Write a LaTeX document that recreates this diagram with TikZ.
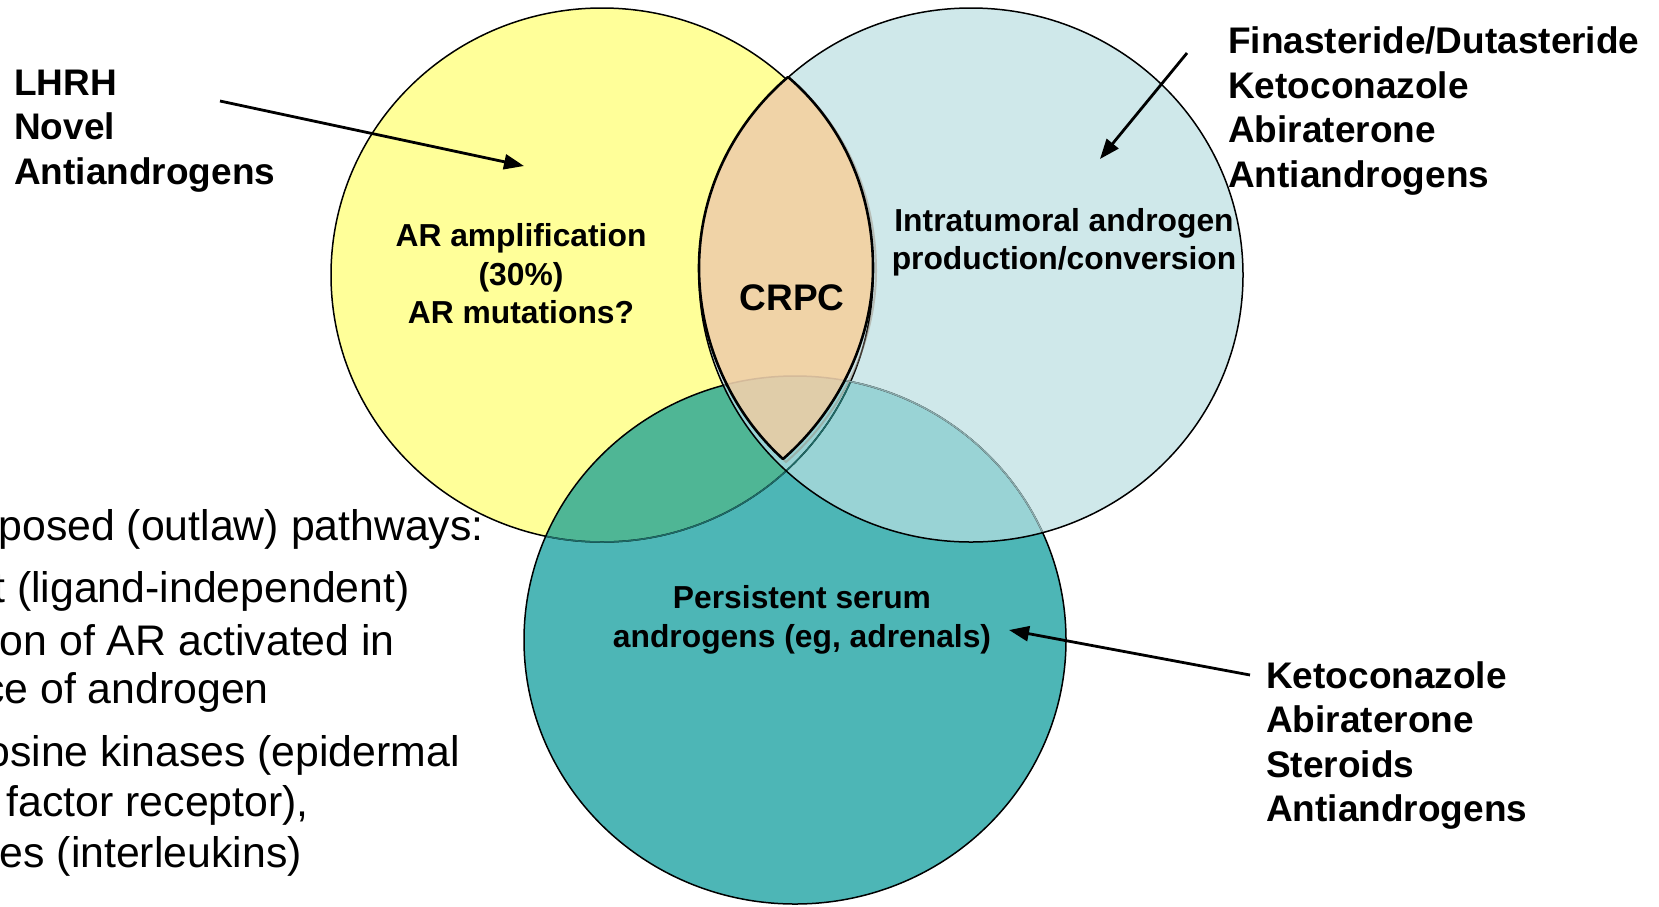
\documentclass[tikz,border=0pt]{standalone}
\usepackage{fontspec}
\setmainfont{Liberation Sans}
\usetikzlibrary{arrows.meta}

\definecolor{yel}{HTML}{FFFF99}
\definecolor{lblue}{HTML}{CFE8EA}
\definecolor{teal1}{HTML}{4DB6B6}
\definecolor{tealyel}{HTML}{4FB695}
\definecolor{tealblue}{HTML}{99D3D5}
\definecolor{lens}{HTML}{F0D3A7}
\definecolor{lensteal}{HTML}{E0CDA9}
\definecolor{yeledge}{HTML}{1E6A66}
\definecolor{tealedge}{HTML}{8AABAD}
\definecolor{lensedge}{HTML}{D4BA9A}
\definecolor{lensshadow}{HTML}{9A8A7A}

\tikzset{
  circline/.style={line width=1.5pt},
  lensline/.style={line width=2.6pt, line join=round},
  pointer/.style={line width=2.8pt, -{Triangle[length=20pt,width=15pt]}},
  druglist/.style={font=\fontsize{37}{44.5}\selectfont\bfseries, inner sep=0pt, align=left},
  inlabel/.style={font=\fontsize{31.8}{38.4}\selectfont\bfseries, inner sep=0pt, align=center},
  bodyline/.style={font=\fontsize{42.8}{51}\selectfont, inner sep=0pt, anchor=east},
}

\def\yellowpath{(602,275) ellipse [x radius=271, y radius=267]}
\def\bluepath{(971,275) ellipse [x radius=272, y radius=267]}
\def\tealpath{(795,640) ellipse [x radius=271, y radius=264]}
% the CRPC lens, drawn as its own shape
\def\lenspath{(788,77) .. controls (732,125) and (699,194) .. (699,268)
  .. controls (699,341) and (731,412) .. (783,459)
  .. controls (837,412) and (873,341) .. (873,268)
  .. controls (873,194) and (844,125) .. (788,77) -- cycle}

\begin{document}
\begin{tikzpicture}[x=1pt, y=-1pt]
\useasboundingbox (0,0) rectangle (1659,906);
\clip (0,0) rectangle (1659,906);

% base fills
\fill[yel] \yellowpath;
\fill[lblue] \bluepath;
\fill[teal1] \tealpath;
\begin{scope}
  \clip \yellowpath;
  \fill[tealyel] \tealpath;
\end{scope}
\begin{scope}
  \clip \bluepath;
  \fill[tealblue] \tealpath;
\end{scope}

% circle outlines
\draw[circline] \yellowpath;
\begin{scope}
  \clip \tealpath;
  \draw[circline, yeledge] \yellowpath;
\end{scope}
\draw[circline] \tealpath;
\begin{scope}
  \clip \bluepath;
  \draw[circline, tealedge] \tealpath;
\end{scope}
\draw[circline] \bluepath;

% CRPC lens with a soft shadow
\begin{scope}[shift={(3,3)}]
  \draw[line width=2pt, lensshadow, opacity=0.45] \lenspath;
\end{scope}
\fill[lens] \lenspath;
\begin{scope}
  \clip \lenspath;
  \fill[lensteal] \tealpath;
  \draw[circline, lensedge] \tealpath;
\end{scope}
\draw[lensline] \lenspath;

% labels inside the circles
\node[inlabel] (amp) at (521,274) {AR amplification\\(30\%)\\AR mutations?};
\node[inlabel] (intra) at (1064,242) {Intratumoral androgen\\production/conversion};
\node[font=\fontsize{37}{44}\selectfont\bfseries, inner sep=0pt] (crpc) at (792,298) {CRPC};
\node[inlabel] (serum) at (802,620) {Persistent serum\\androgens (eg, adrenals)};

% drug lists
\node[druglist, anchor=west] (lhrh) at (14,131) {LHRH\\Novel\\Antiandrogens};
\node[druglist, anchor=west] (fina) at (1228,111) {Finasteride/Dutasteride\\Ketoconazole\\Abiraterone\\Antiandrogens};
\node[druglist, anchor=west] (keto) at (1266,745.5) {Ketoconazole\\Abiraterone\\Steroids\\Antiandrogens};

% pointers
\coordinate (lhrhtail) at (220,101);
\coordinate (lhrhtip) at (524,166);
\coordinate (finatail) at (1187,53);
\coordinate (finatip) at (1100,159);
\coordinate (ketotail) at (1250,675);
\coordinate (ketotip) at (1009,630);
\draw[pointer] (lhrhtail) -- (lhrhtip);
\draw[pointer] (finatail) -- (finatip);
\draw[pointer] (ketotail) -- (ketotip);

% bulleted text running in from the left
\node[bodyline] (p1) at (484,529) {Proposed (outlaw) pathways:};
\node[bodyline] (p2) at (410,591) {– Direct (ligand-independent)};
\node[bodyline] (p3) at (395,640) {activation of AR activated in};
\node[bodyline] (p4) at (269,692) {absence of androgen};
\node[bodyline] (p5) at (460,755) {– Tyrosine kinases (epidermal};
\node[bodyline] (p6) at (309,805) {growth factor receptor),};
\node[bodyline] (p7) at (302,856) {cytokines (interleukins)};
\end{tikzpicture}
\end{document}
